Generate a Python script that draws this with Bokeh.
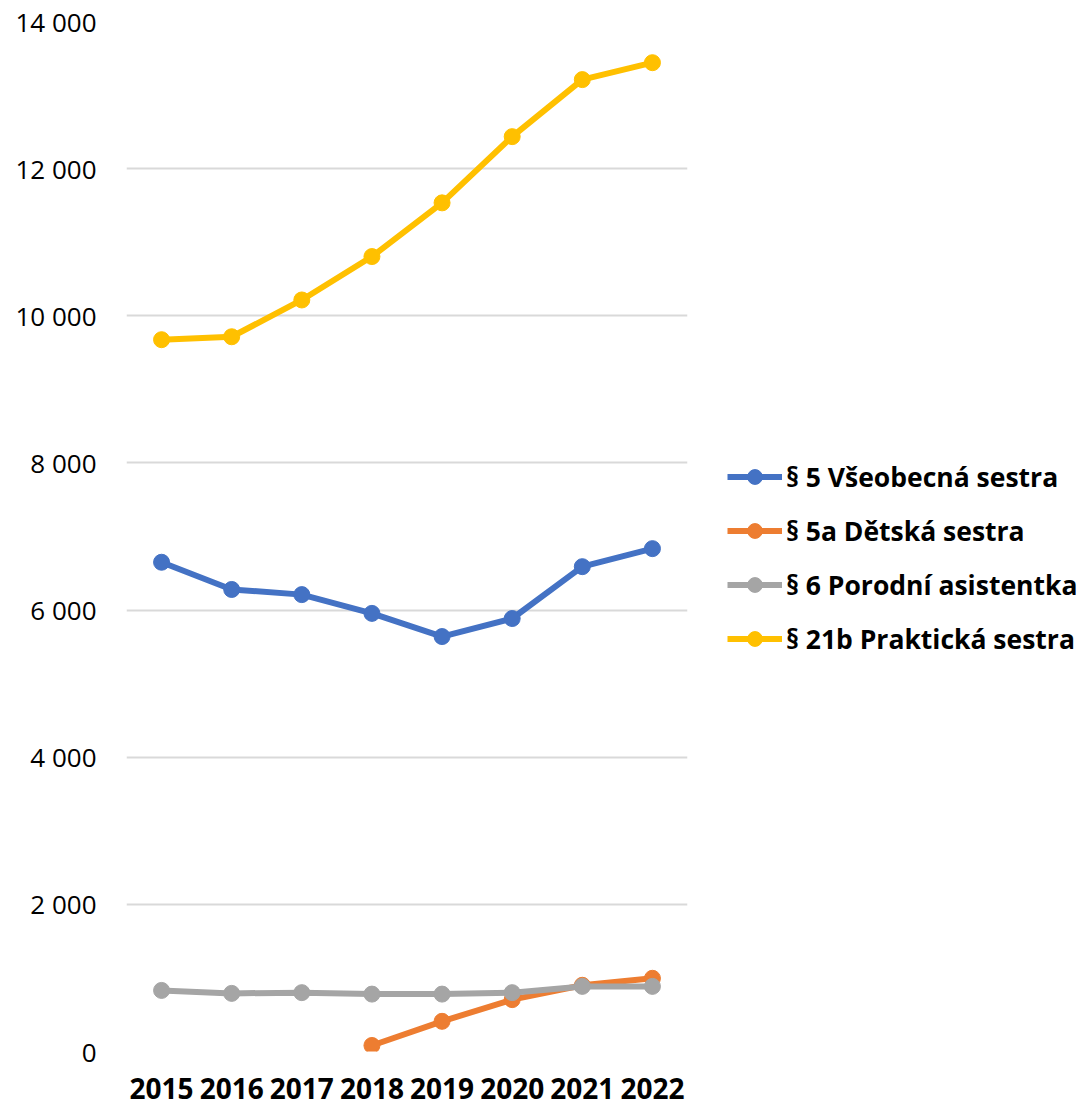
from bokeh.plotting import figure
from bokeh.models import FactorRange, Range1d, FixedTicker, Legend, LegendItem
from bokeh.embed import file_html
from bokeh.resources import INLINE

years = ["2015", "2016", "2017", "2018", "2019", "2020", "2021", "2022"]
vseobecna = [6650, 6280, 6210, 5955, 5640, 5885, 6590, 6835]
detska_years = ["2018", "2019", "2020", "2021", "2022"]
detska = [82, 410, 705, 900, 995]
porodni = [830, 790, 800, 780, 780, 800, 885, 885]
prakticka = [9675, 9715, 10215, 10805, 11535, 12435, 13210, 13440]
y_ticks = [0, 2000, 4000, 6000, 8000, 10000, 12000, 14000]
y_labels = ["0", "2 000", "4 000", "6 000", "8 000", "10 000", "12 000", "14 000"]

names = ["§ 5 Všeobecná sestra", "§ 5a Dětská sestra", "§ 6 Porodní asistentka", "§ 21b Praktická sestra"]
colors = ["#4472C4", "#ED7D31", "#A5A5A5", "#FFC000"]

p = figure(frame_width=561, frame_height=1030, x_range=FactorRange(*years, range_padding=0),
           y_range=Range1d(0, 14000), output_backend="svg", toolbar_location=None,
           min_border_left=126, min_border_right=6, min_border_top=21, min_border_bottom=54)
p.outline_line_color = None
p.xgrid.grid_line_color = None
p.ygrid.grid_line_color = "#D9D9D9"
p.ygrid.grid_line_width = 2
p.yaxis.ticker = FixedTicker(ticks=y_ticks)
p.yaxis.major_label_overrides = {t: l for t, l in zip(y_ticks, y_labels)}
for ax in (p.xaxis[0], p.yaxis[0]):
    ax.axis_line_color = None
    ax.major_tick_line_color = None
    ax.minor_tick_line_color = None
p.yaxis.major_label_text_font = "Open Sans"
p.yaxis.major_label_text_font_size = "26px"
p.yaxis.major_label_text_color = "#000000"
p.yaxis.major_label_standoff = 24
p.xaxis.major_label_text_font = "Open Sans"
p.xaxis.major_label_text_font_size = "28px"
p.xaxis.major_label_text_font_style = "bold"
p.xaxis.major_label_text_color = "#000000"
p.xaxis.major_label_standoff = 20

series = [(years, vseobecna), (detska_years, detska), (years, porodni), (years, prakticka)]
items = []
for (xs, ys), name, c in zip(series, names, colors):
    l = p.line(xs, ys, line_color=c, line_width=6)
    s = p.scatter(xs, ys, size=16, fill_color=c, line_color=c)
    items.append(LegendItem(label=name, renderers=[l, s]))

legend = Legend(items=items, location=(40, 394), border_line_color=None,
                background_fill_alpha=0, glyph_width=55, glyph_height=37,
                spacing=17, padding=0, margin=0, label_standoff=4,
                label_text_font="Open Sans", label_text_font_size="26.5px",
                label_text_font_style="bold", label_text_color="#000000")
p.add_layout(legend, "right")

open("out.html", "w").write(file_html(p, INLINE))
